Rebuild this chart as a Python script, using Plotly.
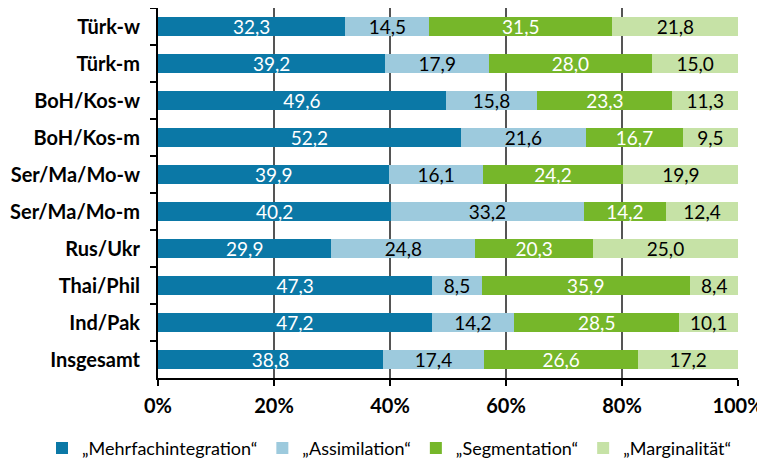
import plotly.graph_objects as go

categories = ["Türk-w", "Türk-m", "BoH/Kos-w", "BoH/Kos-m", "Ser/Ma/Mo-w",
              "Ser/Ma/Mo-m", "Rus/Ukr", "Thai/Phil", "Ind/Pak", "Insgesamt"]
mehrfach = [32.3, 39.2, 49.6, 52.2, 39.9, 40.2, 29.9, 47.3, 47.2, 38.8]
assim = [14.5, 17.9, 15.8, 21.6, 16.1, 33.2, 24.8, 8.5, 14.2, 17.4]
segment = [31.5, 28.0, 23.3, 16.7, 24.2, 14.2, 20.3, 35.9, 28.5, 26.6]
marginal = [21.8, 15.0, 11.3, 9.5, 19.9, 12.4, 25.0, 8.4, 10.1, 17.2]
tick_vals = [0, 20, 40, 60, 80, 100]
tick_text = ["0%", "20%", "40%", "60%", "80%", "100%"]

series = [
    ("„Mehrfachintegration“", mehrfach, "#0B78A6", "white"),
    ("„Assimilation“", assim, "#9DCADD", "black"),
    ("„Segmentation“", segment, "#76B72A", "white"),
    ("„Marginalität“", marginal, "#C6E2A6", "black"),
]

FONT = "Lato"
fig = go.Figure()
for name, vals, col, tcol in series:
    fig.add_trace(go.Bar(
        y=categories, x=vals, name=name, orientation="h",
        marker=dict(color=col, line=dict(width=0)),
        text=vals, texttemplate="%{x:.1f}", textposition="inside",
        insidetextanchor="middle", constraintext="none",
        textfont=dict(color=tcol, size=19, family=FONT),
    ))

# page body has an 8px margin, so the figure is sized/placed to compensate
fig.update_layout(
    barmode="stack", bargap=0.48,
    width=757, height=455,
    margin=dict(l=150, r=27, t=0, b=85, autoexpand=False),
    plot_bgcolor="white", paper_bgcolor="white",
    separators=",.",
    font=dict(family=FONT, size=19, color="black"),
    uniformtext=dict(mode="show", minsize=19),
    legend=dict(orientation="h", x=-0.2, xanchor="left",
                y=-0.14, yanchor="top",
                font=dict(size=18, family=FONT), traceorder="normal",
                itemwidth=30, tracegroupgap=0),
    showlegend=True,
)
fig.update_xaxes(
    range=[0, 100], tickvals=tick_vals, ticktext=tick_text,
    showgrid=True, gridcolor="#555555", gridwidth=1.5,
    showline=True, linecolor="black", linewidth=2,
    ticks="outside", ticklen=6, tickwidth=2, tickcolor="black",
    tickfont=dict(size=20, family=FONT, color="black", weight="bold"),
    zeroline=False, automargin=False, ticklabelstandoff=3,
)
fig.update_yaxes(
    autorange="reversed", categoryorder="array", categoryarray=categories,
    showline=True, linecolor="black", linewidth=2,
    ticks="outside", ticklen=6, tickwidth=2, tickcolor="black",
    tickson="boundaries", automargin=False, ticklabelstandoff=12,
    tickfont=dict(size=20, family=FONT, color="black", weight="bold"),
    showgrid=False,
)
fig.write_html("out.html")
